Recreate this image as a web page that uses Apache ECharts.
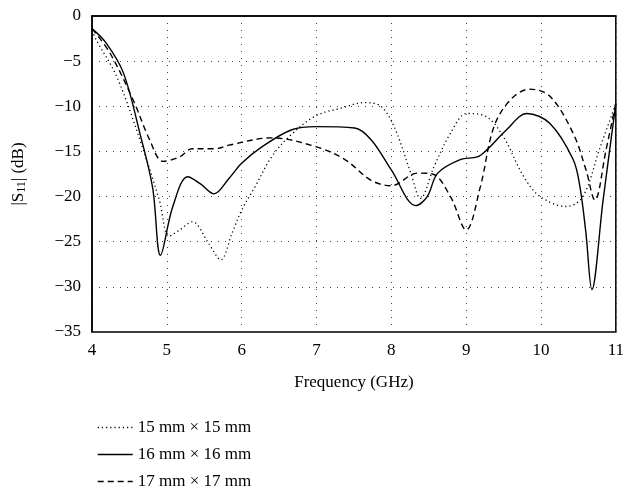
<!DOCTYPE html>
<html><head><meta charset="utf-8">
<script src="https://cdn.jsdelivr.net/npm/echarts@6/dist/echarts.min.js"></script>
<style>html,body{margin:0;padding:0;background:#fff}#c{width:627px;height:491px}</style>
</head><body><div id="c"></div>
<script>
// Data
const seriesNames = ['15 mm \u00d7 15 mm', '16 mm \u00d7 16 mm', '17 mm \u00d7 17 mm'];
const freq15 = [4.0, 4.06, 4.33, 4.64, 4.9, 5.03, 5.17, 5.34, 5.56, 5.72, 5.87, 6.0, 6.18, 6.4, 6.63, 6.98, 7.33, 7.64, 7.86, 8.04, 8.26, 8.39, 8.57, 8.79, 9.01, 9.28, 9.5, 9.77, 9.99, 10.34, 10.56, 10.78, 11.0];
const s15 = [-1.6, -2.7, -6.7, -13.7, -20.4, -24.4, -23.7, -22.8, -25.2, -27.0, -24.1, -21.5, -18.9, -15.6, -13.4, -11.1, -10.2, -9.6, -10.0, -12.3, -17.4, -20.2, -16.7, -13.0, -10.8, -11.2, -13.4, -17.8, -20.0, -21.1, -20.0, -14.8, -9.7];
const freq16 = [4.0, 4.19, 4.42, 4.64, 4.81, 4.915, 5.08, 5.28, 5.45, 5.63, 5.83, 6.0, 6.27, 6.67, 7.0, 7.51, 7.73, 8.0, 8.33, 8.48, 8.62, 8.92, 9.15, 9.28, 9.54, 9.81, 10.12, 10.43, 10.52, 10.6, 10.68, 10.83, 11.0];
const s16 = [-1.4, -3.0, -6.3, -13.0, -19.0, -26.5, -21.1, -17.8, -18.6, -19.7, -18.0, -16.3, -14.5, -12.6, -12.25, -12.4, -13.7, -17.05, -21.0, -20.0, -17.4, -15.9, -15.6, -14.8, -12.6, -10.8, -11.9, -15.9, -18.9, -24.0, -30.3, -20.4, -9.7];
const freq17 = [4.0, 4.24, 4.55, 4.77, 4.95, 5.17, 5.34, 5.65, 5.83, 6.4, 7.0, 7.38, 7.73, 8.0, 8.35, 8.55, 8.79, 9.0, 9.19, 9.37, 9.59, 9.85, 10.12, 10.43, 10.6, 10.72, 10.87, 11.0];
const s17 = [-1.4, -4.1, -9.3, -13.7, -16.1, -15.6, -14.7, -14.7, -14.3, -13.5, -14.5, -15.9, -18.2, -18.8, -17.4, -17.5, -20.0, -23.7, -18.9, -12.3, -9.3, -8.1, -8.9, -13.0, -17.0, -20.4, -14.8, -9.7];
const xTicks = [4, 5, 6, 7, 8, 9, 10, 11];
const yTicks = [0, -5, -10, -15, -20, -25, -30, -35];

const pair = (xs, ys) => xs.map((x, i) => [x, ys[i]]);
const FONT = 'Liberation Serif';
const chart = echarts.init(document.getElementById('c'), null, {renderer: 'canvas'});
const gridLine = {show: true, lineStyle: {color: '#444', width: 1, type: [1, 6]}};
const styles = [[1.2, 3], 'solid', [6, 4]];
const widths = [1.3, 1.4, 1.4];
const mk = (i, data) => ({
  name: seriesNames[i], type: 'line', data, symbol: 'none', smooth: 0.35,
  lineStyle: {color: '#000', width: widths[i], type: styles[i]}, itemStyle: {color: '#000'}
});
const legendTops = [414, 441, 468];
chart.setOption({
  animation: false,
  grid: {left: 92, right: 7, top: 16, bottom: 159, show: true, borderColor: '#000', borderWidth: 1.5},
  xAxis: {
    type: 'value', min: xTicks[0], max: xTicks[xTicks.length - 1], interval: 1,
    name: 'Frequency (GHz)', nameLocation: 'middle', nameGap: 42,
    nameTextStyle: {fontFamily: FONT, fontSize: 17, color: '#000'},
    axisLine: {lineStyle: {color: '#000', width: 1.5}},
    axisTick: {show: false},
    axisLabel: {fontFamily: FONT, fontSize: 17, color: '#000', margin: 10},
    splitLine: gridLine
  },
  yAxis: {
    type: 'value', min: yTicks[yTicks.length - 1], max: yTicks[0], interval: 5,
    name: '|S{sub|11}| (dB)', nameLocation: 'middle', nameGap: 64,
    nameTextStyle: {fontFamily: FONT, fontSize: 17, color: '#000',
      rich: {sub: {fontFamily: FONT, fontSize: 12, color: '#000', verticalAlign: 'bottom', padding: [6, 0, 0, 0]}}},
    axisLine: {lineStyle: {color: '#000', width: 1.5}},
    axisTick: {show: false},
    axisLabel: {fontFamily: FONT, fontSize: 17, color: '#000', margin: 11,
      formatter: v => String(v).replace('-', '\u2212')},
    splitLine: gridLine
  },
  legend: seriesNames.map((n, i) => ({
    orient: 'vertical', left: 92, top: legendTops[i], itemWidth: 35, itemHeight: 14, itemGap: 6,
    data: [{name: n}], selectedMode: false,
    itemStyle: {opacity: 0},
    lineStyle: {color: '#000', width: widths[i], type: styles[i], opacity: 1},
    textStyle: {fontFamily: FONT, fontSize: 17, color: '#000'}
  })),
  series: [
    mk(0, pair(freq15, s15)),
    mk(1, pair(freq16, s16)),
    mk(2, pair(freq17, s17))
  ]
});
</script></body></html>
